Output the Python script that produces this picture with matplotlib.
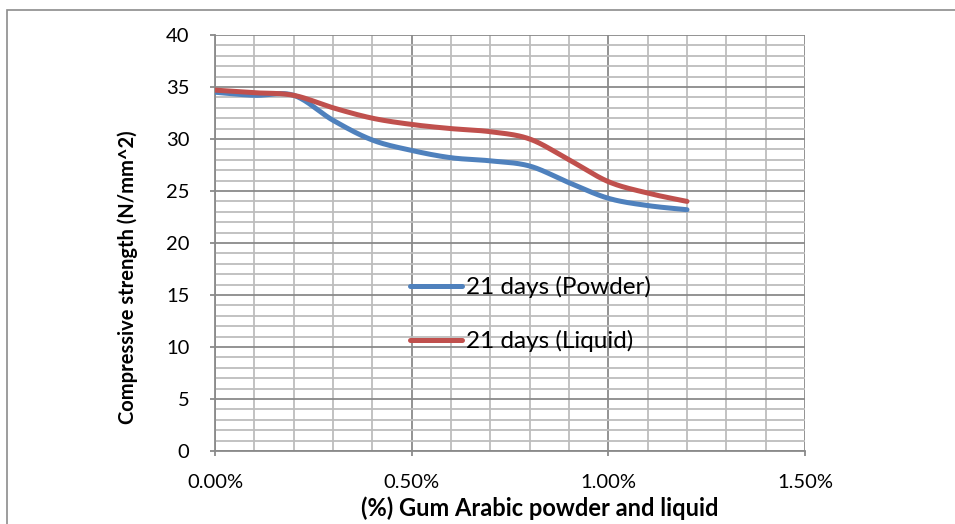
import numpy as np
import matplotlib
matplotlib.use("Agg")
import matplotlib.pyplot as plt
from matplotlib.ticker import MultipleLocator, FuncFormatter
from matplotlib.patches import Rectangle

plt.rcParams['font.family'] = ['Lato', 'DejaVu Sans']

# data
gum_pct = [0.0, 0.1, 0.2, 0.3, 0.4, 0.5, 0.6, 0.7, 0.8, 0.9, 1.0, 1.1, 1.2]
powder_21d = [34.5, 34.2, 34.2, 31.8, 29.9, 28.9, 28.2, 27.9, 27.4, 25.8, 24.3, 23.6, 23.2]
liquid_21d = [34.7, 34.45, 34.2, 33.0, 32.0, 31.4, 31.0, 30.7, 30.0, 28.0, 25.9, 24.8, 24.0]
series_names = ["21 days (Powder)", "21 days (Liquid)"]
x_ticks = [0.0, 0.5, 1.0, 1.5]


def smooth(x, y, n=30):
    # Excel-like smoothed line: cubic bezier through points
    x = np.asarray(x, float); y = np.asarray(y, float)
    px, py = [], []
    for i in range(len(x) - 1):
        x0, y0 = (x[i - 1], y[i - 1]) if i > 0 else (x[i], y[i])
        x3, y3 = (x[i + 2], y[i + 2]) if i + 2 < len(x) else (x[i + 1], y[i + 1])
        c1x = x[i] + (x[i + 1] - x0) / 6
        c1y = y[i] + (y[i + 1] - y0) / 6
        c2x = x[i + 1] - (x3 - x[i]) / 6
        c2y = y[i + 1] - (y3 - y[i]) / 6
        t = np.linspace(0, 1, n)
        bx = (1-t)**3*x[i] + 3*(1-t)**2*t*c1x + 3*(1-t)*t**2*c2x + t**3*x[i+1]
        by = (1-t)**3*y[i] + 3*(1-t)**2*t*c1y + 3*(1-t)*t**2*c2y + t**3*y[i+1]
        px.extend(bx); py.extend(by)
    return np.array(px), np.array(py)


fig = plt.figure(figsize=(9.55, 5.24), dpi=100)
fig.patches.append(Rectangle((7/955, -0.1), 1.2, 1 - 10/524 + 0.1, transform=fig.transFigure,
                             fill=False, edgecolor='#8c8c8c', lw=1.2))
ax = fig.add_axes([215/955, 1 - 451/524, 590/955, 416/524])

xs, ys = smooth(gum_pct, powder_21d)
ax.plot(xs, ys, color='#4F81BD', lw=3.6, solid_capstyle='round', label=series_names[0], zorder=3)
xs, ys = smooth(gum_pct, liquid_21d)
ax.plot(xs, ys, color='#C0504D', lw=3.6, solid_capstyle='round', label=series_names[1], zorder=3)

ax.set_xlim(0, 1.5)
ax.set_ylim(0, 40)
ax.set_xticks(x_ticks)
ax.xaxis.set_minor_locator(MultipleLocator(0.1))
ax.yaxis.set_major_locator(MultipleLocator(5))
ax.yaxis.set_minor_locator(MultipleLocator(1))
ax.xaxis.set_major_formatter(FuncFormatter(lambda v, p: f"{v:.2f}%"))

ax.grid(which='major', color='#8a8a8a', lw=1.3)
ax.grid(which='minor', color='#bdbdbd', lw=1.3)
ax.set_axisbelow(True)
for s in ['top', 'right']:
    ax.spines[s].set_visible(False)
for s in ['left', 'bottom']:
    ax.spines[s].set_color('#8a8a8a')
    ax.spines[s].set_linewidth(1.3)

ax.tick_params(which='major', length=3.5, color='#8a8a8a', width=1.3, labelsize=14.5)
ax.tick_params(which='minor', length=0)
ax.tick_params(axis='x', pad=13)
ax.tick_params(axis='y', pad=15)

ax.set_xlabel("(%) Gum Arabic powder and liquid", fontsize=17, fontweight='bold')
ax.xaxis.set_label_coords(0.551, -0.108)
ax.set_ylabel("Compressive strength (N/mm^2)", fontsize=14.5, fontweight='bold')
ax.yaxis.set_label_coords(-0.13, 0.418)

ax.legend(loc='upper left', bbox_to_anchor=(0.33, 0.42), frameon=False, fontsize=17.5,
          borderpad=0, borderaxespad=0, handlelength=2.15, handletextpad=0.17, labelspacing=1.3)

fig.savefig("out.png", dpi=100)
